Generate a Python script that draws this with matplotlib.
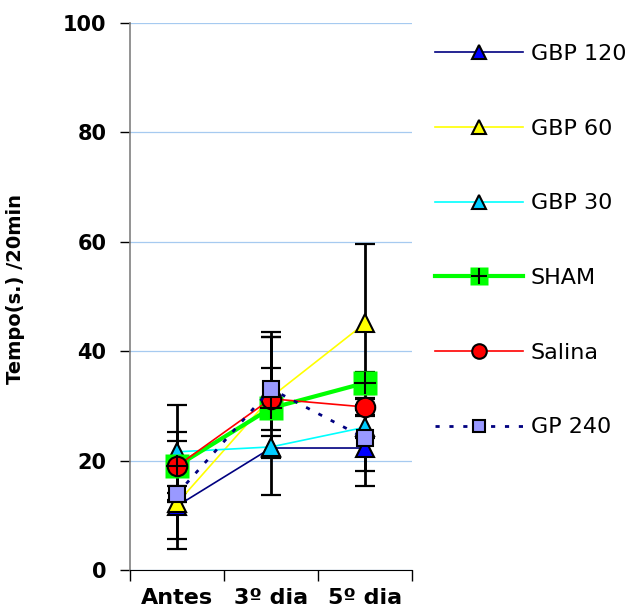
import numpy as np
import matplotlib
matplotlib.use("Agg")
import matplotlib.pyplot as plt
from matplotlib.legend_handler import HandlerTuple

plt.rcParams['font.family'] = ['DejaVu Sans']

# Data
dias = ['Antes', '3º dia', '5º dia']

gbp120 = [11.7, 22.3, 22.3]
gbp120_lo = [6.0, 8.6, 6.9]
gbp120_hi = [6.0, 8.6, 6.9]

gbp60 = [12.2, 31.6, 45.1]
gbp60_lo = [8.4, 2.0, 13.7]
gbp60_hi = [8.4, 11.0, 14.5]

gbp30 = [21.6, 22.5, 26.1]
gbp30_lo = [2.0, 2.0, 2.0]
gbp30_hi = [2.0, 2.0, 2.0]

sham = [19.0, 29.6, 34.2]
sham_lo = [6.2, 4.0, 2.0]
sham_hi = [6.2, 7.3, 2.0]

salina = [19.0, 31.3, 29.8]
salina_lo = [5.0, 2.0, 1.5]
salina_hi = [11.2, 11.3, 1.5]

gp240 = [13.9, 33.1, 24.1]
gp240_lo = [1.5, 2.0, 6.0]
gp240_hi = [1.5, 10.4, 6.0]

x = np.arange(len(dias))

fig = plt.figure(figsize=(6.43, 6.11), dpi=100)
ax = fig.add_axes([0.2022, 0.0671, 0.4386, 0.8953])

# error bars (drawn below markers)
eb = dict(fmt='none', ecolor='black', elinewidth=2.0, capsize=7.5, capthick=1.6, zorder=2)
for vals, lo, hi in [(gbp120, gbp120_lo, gbp120_hi), (gbp60, gbp60_lo, gbp60_hi),
                     (gbp30, gbp30_lo, gbp30_hi), (sham, sham_lo, sham_hi),
                     (salina, salina_lo, salina_hi), (gp240, gp240_lo, gp240_hi)]:
    ax.errorbar(x, vals, yerr=[lo, hi], **eb)

# lines and markers
h1, = ax.plot(x, gbp120, color='#000080', lw=1.2, marker='^', ms=13,
              mfc='#0000FF', mec='black', mew=1.5, zorder=3)
h2, = ax.plot(x, gbp60, color='#FFFF00', lw=1.2, marker='^', ms=13,
              mfc='#FFFF00', mec='black', mew=1.5, zorder=3)
h3, = ax.plot(x, gbp30, color='#00FFFF', lw=1.2, marker='^', ms=13,
              mfc='#00CCFF', mec='black', mew=1.5, zorder=3)
h4, = ax.plot(x, sham, color='#00FF00', lw=3.0, marker='s', ms=17,
              mfc='#00FF00', mec='none', zorder=3)
h4b, = ax.plot(x, sham, ls='none', marker='+', ms=16, mec='black', mew=1.5, zorder=4)
h5, = ax.plot(x, salina, color='#FF0000', lw=1.2, marker='o', ms=14,
              mfc='#FF0000', mec='black', mew=1.5, zorder=3)
h6, = ax.plot(x, gp240, color='#000080', lw=2.0, ls=(0, (1.5, 3.5)), marker='s', ms=12,
              mfc='#9999FF', mec='black', mew=1.5, zorder=3)

ax.set_xlim(-0.5, 2.5)
ax.set_ylim(0, 100)
ax.set_yticks(np.arange(0, 101, 20))
ax.set_xticks(x)
ax.set_xticklabels(dias, fontsize=16, fontweight='bold')
ax.set_xticks([-0.5, 0.5, 1.5, 2.5], minor=True)
ax.tick_params(axis='x', which='major', length=0, pad=13)
ax.tick_params(axis='x', which='minor', length=8, width=1, direction='out')
ax.tick_params(axis='y', length=7, width=1, direction='out', pad=10, labelsize=15)
for lab in ax.get_yticklabels():
    lab.set_fontweight('bold')

ax.yaxis.grid(True, color='#A6CAF0', lw=0.9)
ax.set_axisbelow(True)
ax.spines['top'].set_visible(False)
ax.spines['right'].set_visible(False)
ax.spines['left'].set_color('#808080')
ax.spines['left'].set_linewidth(1.2)
ax.spines['bottom'].set_color('black')

ax.set_ylabel('Tempo(s.) /20min', fontsize=14, fontweight='bold')
ax.yaxis.set_label_coords(-0.372, 0.514)

leg = fig.legend([h1, h2, h3, (h4, h4b), h5, h6],
                 ['GBP 120', 'GBP 60', 'GBP 30', 'SHAM', 'Salina', 'GP 240'],
                 handler_map={tuple: HandlerTuple(ndivide=1, pad=0)},
                 loc='upper left', bbox_to_anchor=(0.6765, 0.928),
                 frameon=False, fontsize=16, handlelength=3.95, handletextpad=0.35,
                 labelspacing=2.46, borderpad=0, borderaxespad=0, markerscale=0.75)

fig.savefig('out.png', dpi=100)
